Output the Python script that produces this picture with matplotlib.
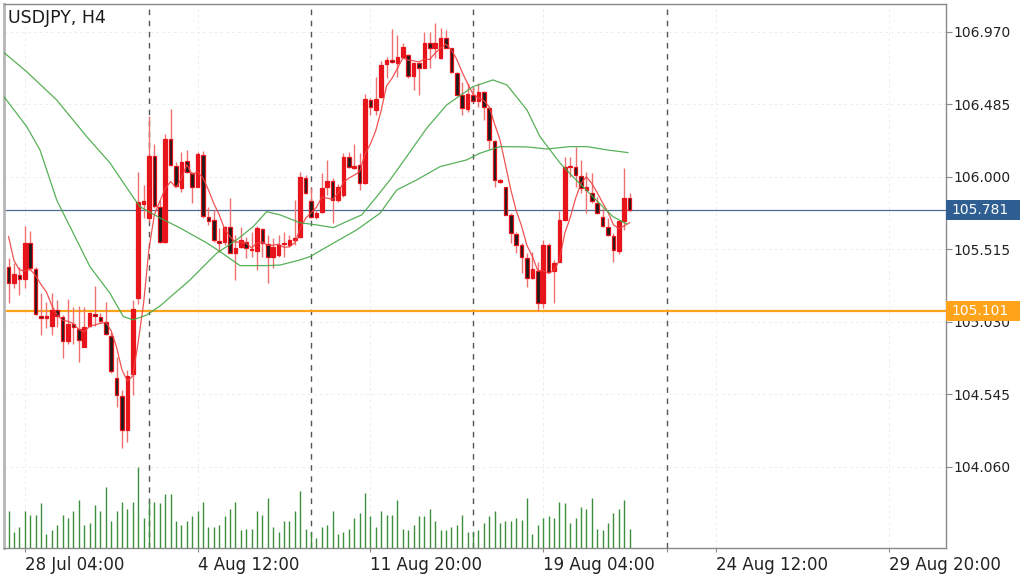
import matplotlib
matplotlib.use("Agg")
import matplotlib.pyplot as plt
import matplotlib.transforms as mtransforms
from matplotlib.patches import Rectangle
import numpy as np
import pandas as pd

symbol_title = "USDJPY, H4"

opens = [105.400, 105.289, 105.344, 105.318, 105.556, 105.382, 105.072, 105.054, 105.003, 105.110,
         105.061, 104.905, 105.014, 104.985, 104.865, 105.003, 105.083, 105.061, 105.032, 104.939,
         104.653, 104.535, 104.308, 104.682, 105.188, 105.817, 105.723, 106.140, 105.802, 105.567,
         106.254, 106.073, 105.924, 106.107, 106.025, 105.935, 106.147, 105.735, 105.712, 105.572,
         105.567, 105.668, 105.489, 105.530, 105.563, 105.518, 105.507, 105.650, 105.552, 105.463,
         105.478, 105.560, 105.545, 105.579, 105.596, 105.996, 105.842, 105.735, 105.764, 105.936,
         105.976, 105.847, 105.880, 106.132, 106.063, 106.081, 105.962, 106.515, 106.449, 106.538,
         106.754, 106.783, 106.765, 106.805, 106.816, 106.676, 106.761, 106.732, 106.894, 106.861,
         106.794, 106.932, 106.861, 106.694, 106.549, 106.455, 106.549, 106.509, 106.571, 106.460,
         106.241, 105.969, 105.931, 105.746, 105.619, 105.546, 105.456, 105.323, 105.374, 105.155,
         105.546, 105.374, 105.434, 105.713, 106.065, 106.065, 106.007, 105.913, 105.896, 105.829,
         105.735, 105.668, 105.608, 105.508, 105.706, 105.858]
highs = [105.456, 105.422, 105.400, 105.672, 105.641, 105.395, 105.222, 105.166, 105.222, 105.177,
         105.077, 105.184, 105.132, 105.137, 105.132, 105.099, 105.271, 105.088, 105.166, 104.965,
         104.798, 104.575, 104.709, 105.177, 106.034, 105.946, 106.408, 106.221, 105.846, 106.288,
         106.453, 106.103, 106.169, 106.181, 106.035, 106.169, 106.176, 105.802, 105.779, 105.657,
         105.672, 105.857, 105.612, 105.668, 105.601, 105.634, 105.672, 105.660, 105.612, 105.590,
         105.612, 105.634, 105.612, 105.846, 106.036, 106.013, 105.929, 105.780, 106.027, 106.114,
         105.992, 105.951, 106.159, 106.165, 106.219, 106.159, 106.553, 106.530, 106.672, 106.776,
         106.805, 106.990, 106.950, 106.894, 106.821, 106.772, 106.772, 106.972, 106.972, 107.028,
         106.995, 106.984, 106.865, 106.705, 106.638, 106.627, 106.600, 106.627, 106.578, 106.465,
         106.245, 105.985, 105.935, 105.760, 105.635, 105.560, 105.490, 105.501, 105.434, 105.579,
         105.561, 105.445, 105.769, 106.136, 106.136, 106.199, 106.114, 106.036, 106.025, 105.869,
         105.791, 105.724, 105.624, 105.710, 106.058, 105.896]
lows = [105.155, 105.255, 105.211, 105.255, 105.378, 105.077, 104.943, 104.988, 104.943, 104.999,
        104.787, 104.883, 104.883, 104.765, 104.860, 104.999, 105.003, 105.021, 104.943, 104.687,
        104.464, 104.185, 104.229, 104.542, 105.150, 105.723, 105.700, 105.790, 105.556, 105.560,
        106.075, 105.935, 105.902, 106.025, 105.828, 105.931, 105.723, 105.679, 105.567, 105.501,
        105.545, 105.489, 105.311, 105.523, 105.456, 105.467, 105.378, 105.467, 105.293, 105.389,
        105.467, 105.463, 105.534, 105.545, 105.590, 105.885, 105.724, 105.720, 105.757, 105.880,
        105.694, 105.835, 105.869, 106.058, 106.055, 105.913, 105.951, 106.415, 106.415, 106.530,
        106.660, 106.761, 106.672, 106.795, 106.660, 106.582, 106.549, 106.727, 106.727, 106.794,
        106.790, 106.860, 106.694, 106.549, 106.415, 106.437, 106.500, 106.471, 106.382, 106.185,
        105.931, 105.960, 105.746, 105.557, 105.494, 105.356, 105.267, 105.320, 105.101, 105.122,
        105.360, 105.160, 105.430, 105.710, 106.003, 105.936, 105.891, 105.757, 105.824, 105.753,
        105.668, 105.606, 105.434, 105.485, 105.646, 105.769]
closes = [105.289, 105.351, 105.318, 105.561, 105.389, 105.081, 105.054, 105.070, 105.110, 105.070,
          104.905, 105.017, 104.994, 104.910, 104.994, 105.088, 105.070, 105.039, 104.950, 104.704,
          104.542, 104.308, 104.671, 105.117, 105.833, 105.839, 106.140, 105.806, 105.567, 106.254,
          106.080, 105.940, 106.100, 106.036, 105.935, 106.152, 105.741, 105.708, 105.579, 105.561,
          105.668, 105.489, 105.523, 105.579, 105.523, 105.512, 105.657, 105.556, 105.463, 105.530,
          105.545, 105.550, 105.579, 105.594, 106.002, 105.891, 105.735, 105.762, 105.929, 105.976,
          105.847, 105.936, 106.132, 106.069, 106.076, 105.962, 106.522, 106.471, 106.522, 106.750,
          106.783, 106.772, 106.801, 106.872, 106.678, 106.765, 106.732, 106.894, 106.861, 106.894,
          106.928, 106.865, 106.700, 106.549, 106.460, 106.553, 106.509, 106.571, 106.466, 106.248,
          105.980, 105.976, 105.746, 105.628, 105.546, 105.463, 105.323, 105.383, 105.155, 105.546,
          105.367, 105.427, 105.713, 106.065, 106.066, 106.014, 105.925, 105.936, 105.842, 105.762,
          105.675, 105.612, 105.512, 105.706, 105.858, 105.781]
volumes = [112, 47, 62, 112, 100, 100, 134, 41, 53, 68, 100, 90, 112, 145, 68, 74, 128, 112, 182, 80,
           112, 139, 117, 139, 243, 90, 142, 139, 134, 161, 161, 80, 68, 80, 95, 112, 139, 63, 63, 68,
           95, 117, 139, 53, 58, 58, 112, 100, 150, 63, 47, 80, 80, 112, 172, 58, 47, 31, 63, 68,
           112, 41, 47, 58, 90, 106, 166, 95, 63, 112, 100, 100, 144, 58, 53, 68, 95, 95, 117, 80,
           53, 53, 63, 68, 100, 47, 47, 53, 74, 95, 112, 74, 80, 80, 90, 85, 150, 41, 68, 90,
           95, 90, 139, 134, 74, 90, 123, 117, 150, 58, 53, 74, 106, 117, 145, 58]

# fast MA values before enough bars are available
fast_ma_head = [105.60, 105.44, 105.38, 105.37]

# slow moving averages (bar index, price)
ma_a_idx = [-0.85, 3.35, 8.91, 14.46, 18.78, 23.04, 24.33, 28.04, 31.74, 36.69, 39.15, 42.85, 47.80,
            50.30, 53.96, 55.81, 60.13, 64.46, 68.78, 71.87, 75.57, 79.89, 84.83, 87.30, 91.00, 96.0,
            99.7, 103.96, 107.11, 110.81, 114.70]
ma_a_val = [106.832, 106.704, 106.515, 106.270, 106.094, 105.866, 105.801, 105.726, 105.659, 105.559,
            105.501, 105.407, 105.407, 105.411, 105.445, 105.467, 105.557, 105.646, 105.757, 105.913,
            105.980, 106.069, 106.114, 106.159, 106.203, 106.201, 106.187, 106.203, 106.203, 106.181,
            106.163]
ma_b_idx = [-0.85, 3.35, 5.81, 8.91, 11.37, 15.07, 18.78, 21.24, 23.09, 25.57, 28.04, 33.59, 38.54,
            42.24, 45.31, 47.80, 50.30, 53.96, 57.06, 60.13, 63.22, 65.39, 68.17, 70.63, 73.72, 77.43,
            81.13, 86.0, 89.7, 92.3, 96.0, 98.4, 102.1, 104.5, 108.2, 111.9, 114.5]
ma_b_val = [106.537, 106.337, 106.181, 105.846, 105.668, 105.400, 105.222, 105.066, 105.044, 105.077,
            105.137, 105.311, 105.490, 105.579, 105.668, 105.768, 105.746, 105.694, 105.679, 105.661,
            105.712, 105.746, 105.868, 105.980, 106.136, 106.326, 106.482, 106.604, 106.649, 106.615,
            106.448, 106.270, 106.094, 106.002, 105.868, 105.735, 105.686]

xtick_idx = [3, 35, 67, 99, 131, 163]
xtick_labels = ["28 Jul 04:00", "4 Aug 12:00", "11 Aug 20:00", "19 Aug 04:00", "24 Aug 12:00", "29 Aug 20:00"]
separator_idx = [26, 56, 86, 122]
price_ticks = [106.970, 106.485, 106.000, 105.515, 105.030, 104.545, 104.060]
current_price = 105.781
level_price = 105.101

# ---------------------------------------------------------------
W, H = 1024, 577
fig = plt.figure(figsize=(W / 100, H / 100), dpi=100)
fig.patch.set_facecolor("white")
L, R, T, B = 4, 946, 4, 548
ax = fig.add_axes([L / W, 1 - B / H, (R - L) / W, (B - T) / H])
ax.set_xlim(-0.85, 173.6)
ax.set_ylim(103.518, 107.157)

# grid
for p in price_ticks:
    ax.axhline(p, color="#eeeeee", lw=0.7, ls=(0, (3, 3)), zorder=0)
for xi in xtick_idx:
    ax.axvline(xi, color="#eeeeee", lw=0.7, ls=(0, (3, 3)), zorder=0)

# volume on a twin axis (same area)
axv = fig.add_axes(ax.get_position(), sharex=ax)
axv.set_ylim(0, (B - T) * 3)
axv.patch.set_visible(False)
axv.axis("off")
idx = np.arange(len(closes))
axv.vlines(idx, 0, volumes, color="#3d8f3d", lw=1.0, zorder=1)

# separators
for s in separator_idx:
    ax.axvline(s, color="#555555", lw=1.0, ls=(0, (4, 4)), zorder=2)

# price lines
ax.axhline(current_price, color="#4d6b93", lw=0.9, zorder=2)
ax.axhline(level_price, color="#ffa31a", lw=1.6, zorder=2)

# candles
bw = 0.68
for i in idx:
    o, h, l, c = opens[i], highs[i], lows[i], closes[i]
    ax.vlines(i, l, h, color="#f07070", lw=1.0, zorder=3)
    bottom = min(o, c)
    height = max(abs(c - o), 0.008)
    face = "#e8141c" if c >= o else "#1c1c1c"
    ax.add_patch(Rectangle((i - bw / 2, bottom), bw, height, facecolor=face,
                           edgecolor="#e8141c", lw=0.9, zorder=4))

# moving averages
fast = pd.Series(closes).rolling(5).mean().to_numpy()
fast[:4] = fast_ma_head
ax.plot(idx, fast, color="#f04040", lw=0.9, zorder=5, alpha=0.9)
ax.plot(ma_a_idx, ma_a_val, color="#45a845", lw=0.9, zorder=5, alpha=0.9)
ax.plot(ma_b_idx, ma_b_val, color="#45a845", lw=0.9, zorder=5, alpha=0.9)

# axes styling
for side in ["top", "right", "bottom"]:
    ax.spines[side].set_color("#8a8a8a")
    ax.spines[side].set_linewidth(1.0)
ax.spines["left"].set_color("#b5b5b5")
ax.spines["left"].set_linewidth(2.0)

ax.yaxis.tick_right()
ax.set_yticks(price_ticks)
ax.set_yticklabels([f"{p:.3f}" for p in price_ticks])
ax.tick_params(axis="y", direction="out", length=4, width=0.8, color="#8a8a8a",
               labelsize=10, labelcolor="#222222", pad=1.5)

ax.set_xticks(xtick_idx)
ax.set_xticklabels(xtick_labels, ha="left")
ax.set_xticks([122], minor=True)
ax.tick_params(axis="x", which="both", direction="out", length=3, width=0.8, color="#8a8a8a",
               labelsize=12, labelcolor="#222222", pad=3)
for lbl in ax.get_xticklabels():
    lbl.set_horizontalalignment("left")

# price boxes
trans = mtransforms.blended_transform_factory(fig.transFigure, ax.transData)
box_h = 20 / 149.5
for price, col in [(current_price, "#2f5f92"), (level_price, "#ffa31a")]:
    ax.add_patch(Rectangle((R / W, price - box_h / 2), 74 / W, box_h, transform=trans,
                           facecolor=col, edgecolor="none", clip_on=False, zorder=10))
    ax.text(951 / W, price, f"{price:.3f}", transform=trans, color="white", fontsize=10,
            va="center", ha="left", zorder=11, clip_on=False)

fig.text(8 / W, 1 - 18 / H, symbol_title, fontsize=12.5, color="#1a1a1a", va="center", ha="left")

fig.savefig("out.png", dpi=100)
